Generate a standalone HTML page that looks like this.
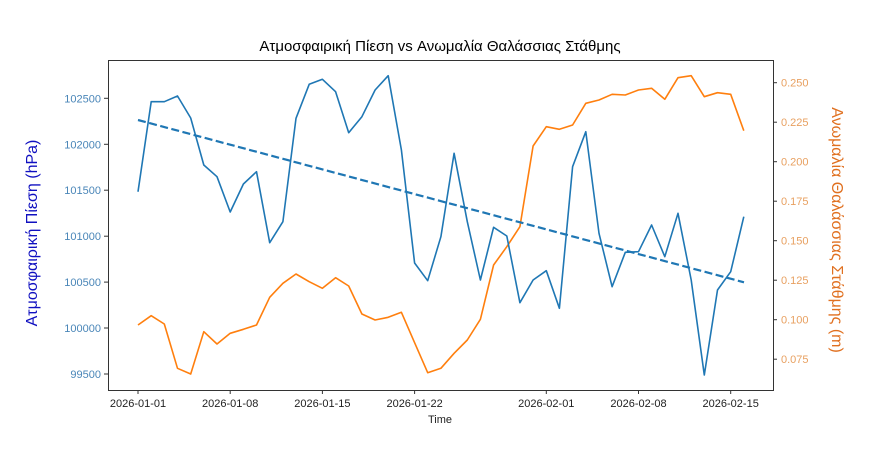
<!DOCTYPE html>
<html><head><meta charset="utf-8"><style>body{margin:0;background:#fff}svg{display:block}text{font-family:"Liberation Sans","DejaVu Sans",sans-serif}</style></head>
<body>
<svg width="869" height="468" viewBox="0 0 869 468" xmlns="http://www.w3.org/2000/svg">
<rect width="869" height="468" fill="#fff"/>
<text x="440" y="51" font-size="15" text-anchor="middle" fill="#000">Ατμοσφαιρική Πίεση vs Ανωμαλία Θαλάσσιας Στάθμης</text>
<g id="plot">
<polyline fill="none" stroke="#ff7f0e" stroke-width="1.6" stroke-linejoin="round" points="
138,325 151.2,315.7 164.3,324 177.5,368.3 190.7,374 203.8,331.7 217,344 230.2,333.3 243.4,329.3 256.5,325 269.7,297.3 282.9,283.3 296,274 309.2,281.7 322.4,288.3 335.6,277.7 348.7,286 361.9,314 375.1,320 388.2,317.3 401.4,312.3 414.6,342.7 427.7,372.7 440.9,368.3 454.1,353.3 467.3,340 480.4,319.3 493.6,265 506.8,246.7 519.9,226.7 533.1,146 546.3,126.7 559.4,129.3 572.6,125 585.8,103.3 599,100 612.1,94.3 625.3,95 638.5,90 651.6,88.3 664.8,99.3 678,77.7 691.2,75.7 704.3,96.7 717.5,92.7 730.7,94.3 743.8,130.7"/>
<polyline fill="none" stroke="#1f77b4" stroke-width="1.6" stroke-linejoin="round" points="
138,191.7 151.2,101.7 164.3,101.7 177.5,96 190.7,118 203.8,165 217,176.7 230.2,212 243.4,184 256.5,171.7 269.7,242.7 282.9,221.7 296,118.3 309.2,84.3 322.4,79.3 335.6,91.7 348.7,132.7 361.9,116.7 375.1,90 388.2,75.7 401.4,150 414.6,263 427.7,280.7 440.9,236.7 454.1,153.3 467.3,221.7 480.4,280 493.6,227.3 506.8,236 519.9,302.7 533.1,280 546.3,270.7 559.4,308.3 572.6,166.7 585.8,131.7 599,233.3 612.1,286.7 625.3,252.3 638.5,251.7 651.6,225 664.8,256.7 678,213.3 691.2,280 704.3,375 717.5,290 730.7,271.7 743.8,216.7"/>
<line x1="138" y1="120" x2="744" y2="282.3" stroke="#1f77b4" stroke-width="2.2" stroke-dasharray="8,3.5"/>
</g>
<rect x="108.5" y="60.5" width="665" height="330" fill="none" stroke="#333" stroke-width="1"/>
<g stroke="#333" stroke-width="1">
<line x1="104" y1="98.3" x2="108" y2="98.3"/><line x1="104" y1="144.3" x2="108" y2="144.3"/><line x1="104" y1="190.2" x2="108" y2="190.2"/><line x1="104" y1="236.2" x2="108" y2="236.2"/><line x1="104" y1="282.1" x2="108" y2="282.1"/><line x1="104" y1="328" x2="108" y2="328"/><line x1="104" y1="374" x2="108" y2="374"/>
<line x1="773" y1="82.7" x2="777" y2="82.7"/><line x1="773" y1="122.2" x2="777" y2="122.2"/><line x1="773" y1="161.7" x2="777" y2="161.7"/><line x1="773" y1="201.2" x2="777" y2="201.2"/><line x1="773" y1="240.7" x2="777" y2="240.7"/><line x1="773" y1="280.2" x2="777" y2="280.2"/><line x1="773" y1="319.7" x2="777" y2="319.7"/><line x1="773" y1="359.2" x2="777" y2="359.2"/>
<line x1="138" y1="390" x2="138" y2="394"/><line x1="230.2" y1="390" x2="230.2" y2="394"/><line x1="322.4" y1="390" x2="322.4" y2="394"/><line x1="414.6" y1="390" x2="414.6" y2="394"/><line x1="546.3" y1="390" x2="546.3" y2="394"/><line x1="638.5" y1="390" x2="638.5" y2="394"/><line x1="730.7" y1="390" x2="730.7" y2="394"/>
</g>
<g font-size="11" fill="#4a86b8" text-anchor="end">
<text x="101" y="102.3">102500</text><text x="101" y="148.3">102000</text><text x="101" y="194.2">101500</text><text x="101" y="240.2">101000</text><text x="101" y="286.1">100500</text><text x="101" y="332">100000</text><text x="101" y="378">99500</text>
</g>
<g font-size="11" fill="#e8a060">
<text x="781" y="86.7">0.250</text><text x="781" y="126.2">0.225</text><text x="781" y="165.7">0.200</text><text x="781" y="205.2">0.175</text><text x="781" y="244.7">0.150</text><text x="781" y="284.2">0.125</text><text x="781" y="323.7">0.100</text><text x="781" y="363.2">0.075</text>
</g>
<g font-size="11" fill="#222" text-anchor="middle">
<text x="138" y="407">2026-01-01</text><text x="230.2" y="407">2026-01-08</text><text x="322.4" y="407">2026-01-15</text><text x="414.6" y="407">2026-01-22</text><text x="546.3" y="407">2026-02-01</text><text x="638.5" y="407">2026-02-08</text><text x="730.7" y="407">2026-02-15</text>
<text x="440" y="423">Time</text>
</g>
<text transform="translate(37,233) rotate(-90)" font-size="16" fill="#1010c0" text-anchor="middle">Ατμοσφαιρική Πίεση (hPa)</text>
<text transform="translate(832,230) rotate(90)" font-size="16" fill="#e07020" text-anchor="middle">Ανωμαλία Θαλάσσιας Στάθμης (m)</text>
</svg>
</body></html>
